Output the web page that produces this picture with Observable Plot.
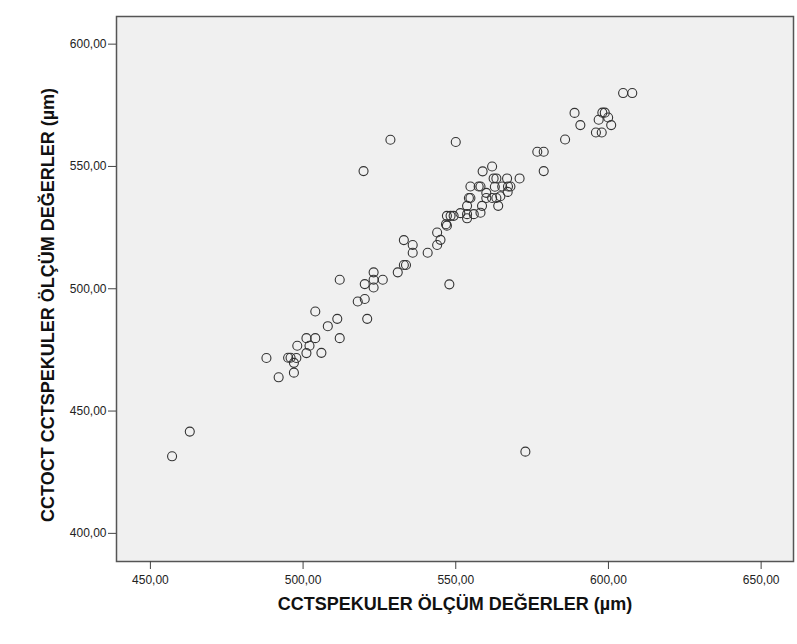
<!DOCTYPE html>
<html>
<head>
<meta charset="utf-8">
<script src="https://cdn.jsdelivr.net/npm/d3@7"></script>
<script src="https://cdn.jsdelivr.net/npm/@observablehq/plot@0.6"></script>
<style>
  html, body { margin: 0; padding: 0; background: #fff; }
  #chart svg { display: block; }
</style>
</head>
<body>
<div id="chart"></div>
<script>
// CCTSPEKULER (x) values
const cctSpekuler = [
  604.8, 607.8, 588.9, 590.8, 585.8, 598.0, 598.8, 596.8, 599.9, 600.9,
  595.9, 597.8, 550.0, 576.7, 578.8, 578.8, 561.9, 558.8, 570.9, 562.4,
  563.3, 566.8, 554.8, 557.5, 558.1, 562.8, 565.2, 567.1, 567.9, 567.0,
  560.0, 554.3, 554.8, 560.0, 561.9, 563.3, 564.6, 558.6, 563.9, 553.7,
  553.7, 555.9, 558.1, 551.5, 549.3, 547.1, 548.3, 553.7, 546.8, 547.1,
  543.9, 545.0, 543.9, 540.8, 533.0, 535.9, 535.9, 531.0, 533.0, 533.7,
  547.9, 512.0, 523.1, 520.2, 523.1, 526.1, 523.1, 517.9, 520.2, 521.0,
  504.0, 511.2, 508.1, 512.0, 501.1, 504.0, 498.1, 502.1, 501.1, 506.0,
  495.1, 495.9, 497.8, 497.0, 497.0, 488.0, 492.0, 462.9, 457.1, 572.8,
  528.6, 519.8
];
// CCTOCT (y) values
const cctOct = [
  580.0, 580.0, 571.9, 566.9, 561.0, 572.0, 572.0, 569.1, 570.0, 566.9,
  563.9, 563.9, 560.0, 556.0, 556.0, 548.1, 550.0, 548.0, 545.1, 545.1,
  545.1, 545.1, 541.8, 541.8, 541.8, 541.7, 541.8, 541.8, 541.8, 539.6,
  539.2, 537.1, 537.1, 537.1, 537.1, 537.1, 537.8, 533.9, 533.9, 533.9,
  530.5, 530.5, 531.1, 530.9, 529.8, 529.8, 529.8, 528.8, 526.4, 525.8,
  523.0, 520.0, 517.9, 514.7, 519.9, 517.9, 514.7, 506.7, 509.7, 509.7,
  501.8, 503.7, 506.7, 501.9, 503.7, 503.7, 500.5, 494.8, 495.8, 487.7,
  490.7, 487.7, 484.7, 479.8, 479.8, 479.8, 476.7, 476.7, 473.7, 473.8,
  471.8, 471.8, 471.7, 469.7, 465.7, 471.7, 463.8, 441.6, 431.5, 433.4,
  560.9, 548.1
];
const xTicks = [450, 500, 550, 600, 650];
const yTicks = [400, 450, 500, 550, 600];
const xTitle = "CCTSPEKULER ÖLÇÜM DEĞERLER (µm)";
const yTitle = "CCTOCT CCTSPEKULER ÖLÇÜM DEĞERLER (µm)";

const points = cctSpekuler.map((x, i) => ({x, y: cctOct[i]}));
const fmt = d => d.toFixed(2).replace(".", ",");

const chart = Plot.plot({
  width: 797,
  height: 644,
  marginLeft: 116,
  marginRight: 4,
  marginTop: 16,
  marginBottom: 83,
  style: {fontFamily: "'Liberation Sans', Arial, sans-serif", background: "#fff"},
  x: {domain: [438.9, 660.6]},
  y: {domain: [388.5, 611.3]},
  marks: [
    Plot.frame({fill: "#f0f0f0", stroke: null}),
    Plot.dot(points, {x: "x", y: "y", r: 4.5, stroke: "#333", strokeWidth: 1.1, fill: "none"}),
    Plot.frame({stroke: "#555", strokeWidth: 1.5}),
    Plot.axisX(xTicks, {tickSize: 8, tickPadding: 6, tickFormat: fmt, fontSize: 12, stroke: "#444", fill: "#222", label: null}),
    Plot.axisY(yTicks, {tickSize: 8, tickPadding: 2, tickFormat: fmt, fontSize: 12, stroke: "#444", fill: "#222", label: null}),
    Plot.text([xTitle], {frameAnchor: "bottom", dy: 48, fontSize: 18, fontWeight: "bold", fill: "#111"}),
    Plot.text([yTitle], {frameAnchor: "left", textAnchor: "middle", dx: -68, dy: 16, rotate: -90, fontSize: 18, fontWeight: "bold", fill: "#111"})
  ]
});
document.getElementById("chart").appendChild(chart);
</script>
</body>
</html>
